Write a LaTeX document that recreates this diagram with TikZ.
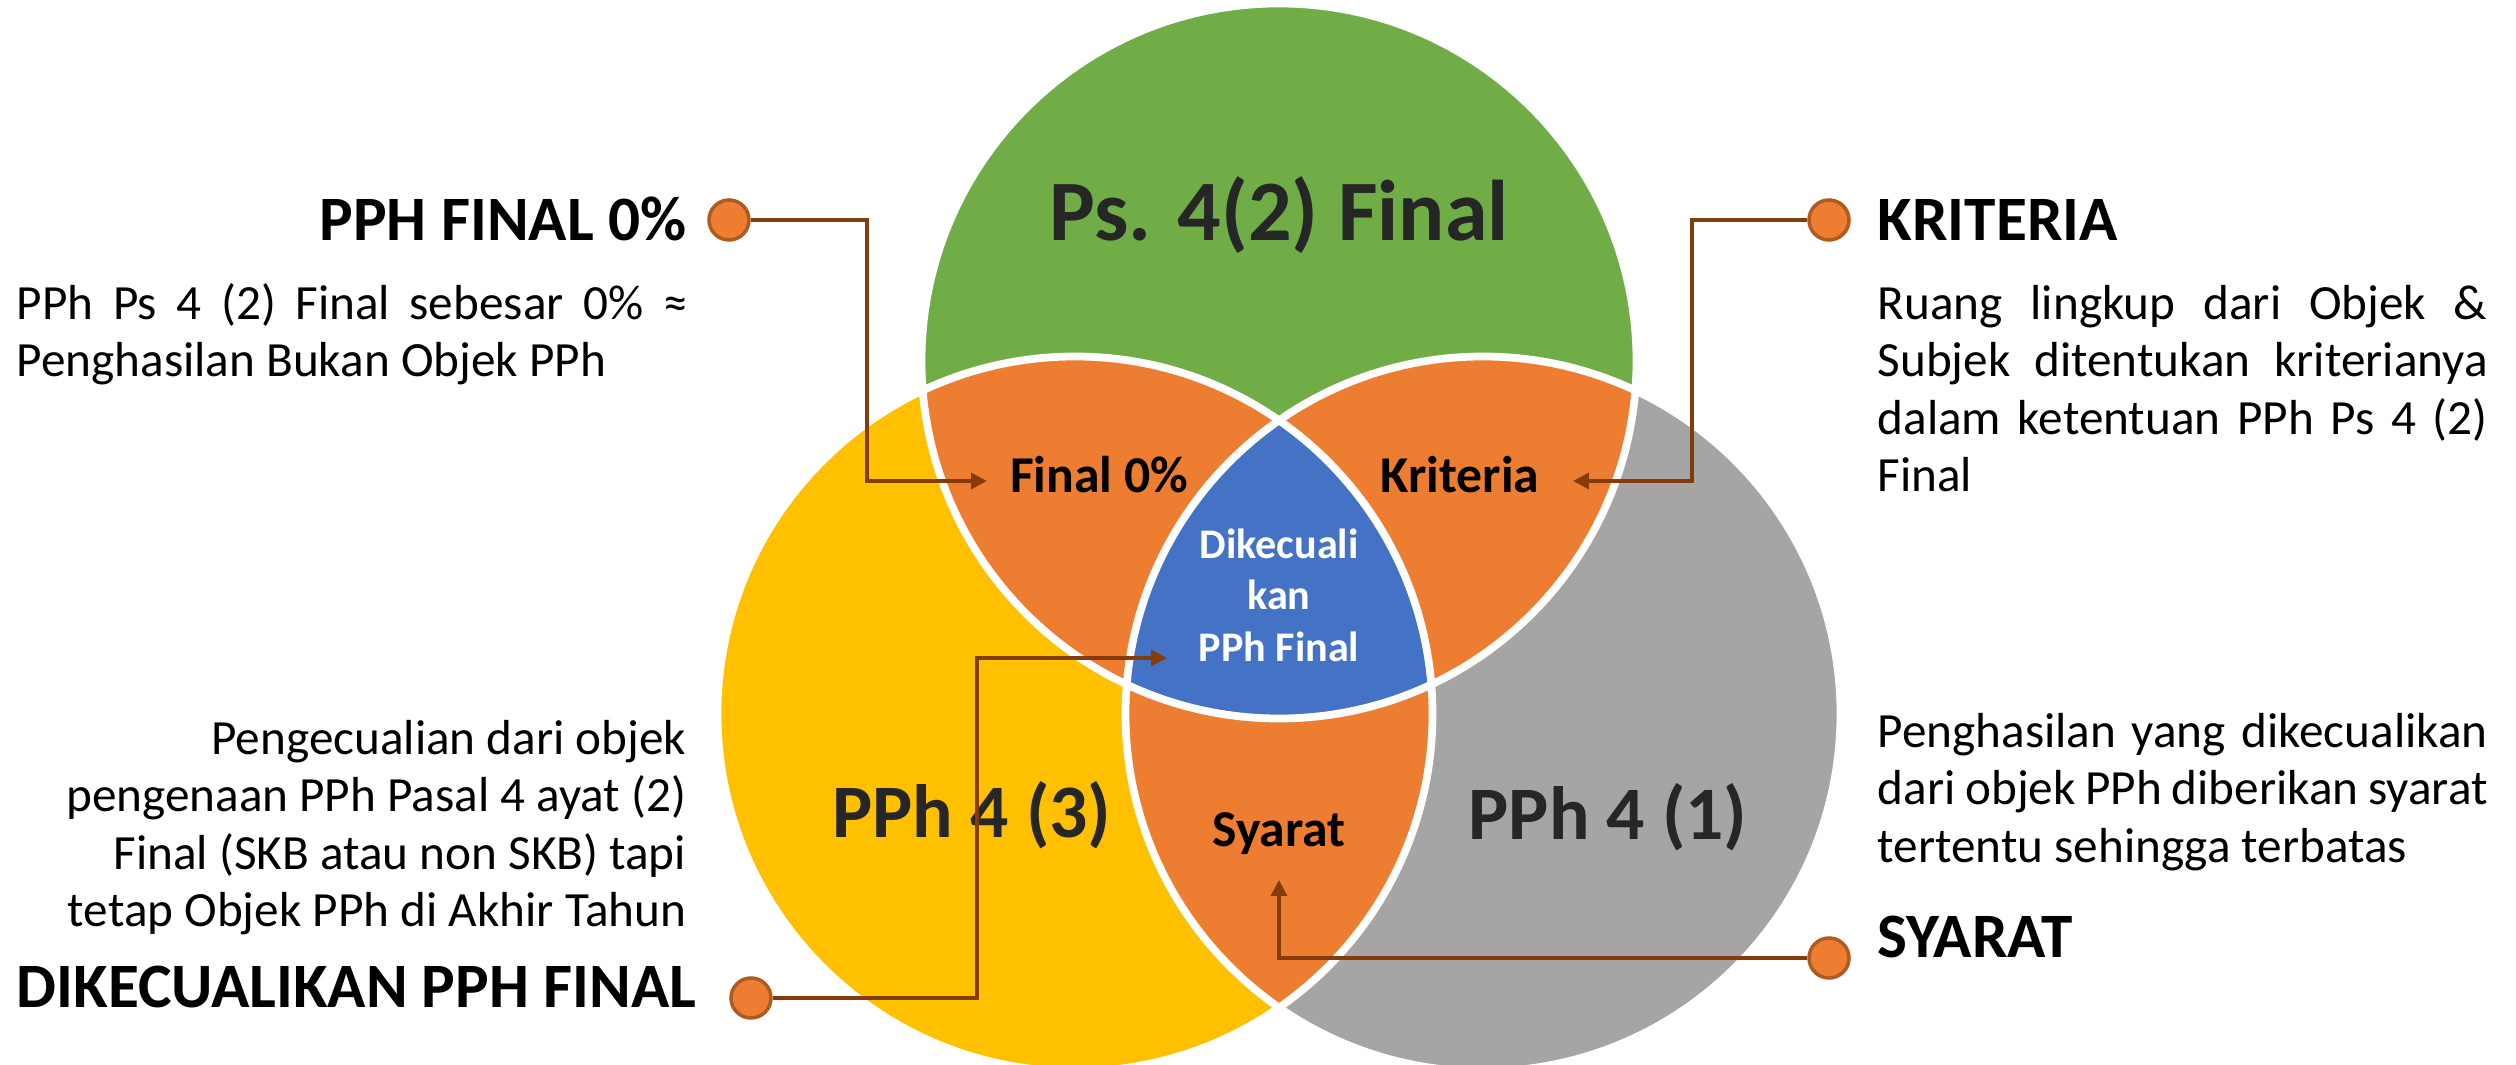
\documentclass[tikz,border=0pt]{standalone}
\usepackage{fontspec}
\setmainfont{Carlito}
\usepackage{tikz}
\usetikzlibrary{arrows.meta, positioning, calc}
\definecolor{vgreen}{HTML}{70AD47}
\definecolor{vyellow}{HTML}{FFC000}
\definecolor{vgray}{HTML}{A5A5A5}
\definecolor{vorange}{HTML}{ED7D31}
\definecolor{vblue}{HTML}{4472C4}
\definecolor{linkbrown}{HTML}{843C0C}
\definecolor{dotedge}{HTML}{AE5A21}
\definecolor{labelgray}{HTML}{262626}
\newcommand{\vennr}{3.575}
\newcommand{\justline}[1]{\hbox to 6.10cm{#1}}

\begin{document}
\begin{tikzpicture}[>={Triangle[length=4.5pt,width=4.5pt]},
  setlbl/.style={inner sep=0pt, text=labelgray, font=\fontsize{21.5}{24}\selectfont\bfseries},
  zonelbl/.style={inner sep=0pt, text=black, font=\fontsize{14.7}{17}\selectfont\bfseries},
  headline/.style={inner sep=0pt, font=\fontsize{18}{21}\selectfont\bfseries},
  bodytext/.style={inner sep=0pt, font=\fontsize{14}{16.4}\selectfont},
  dotmark/.style={circle, draw=dotedge, line width=1pt, fill=vorange, minimum size=0.4cm, inner sep=0pt},
  linker/.style={color=linkbrown, line width=1pt},
  rim/.style={draw=white, line width=2.2pt}]
  \useasboundingbox (0,0) rectangle (25.16,10.65);

  % Circles
  \coordinate (cG) at (12.79,7.04);
  \coordinate (cY) at (10.75,3.51);
  \coordinate (cR) at (14.83,3.51);
  \fill[vgreen] (cG) circle (\vennr);
  \fill[vyellow] (cY) circle (\vennr);
  \fill[vgray] (cR) circle (\vennr);

  % Overlaps
  \begin{scope}
    \clip (cY) circle (\vennr);
    \fill[vorange] (cR) circle (\vennr);
  \end{scope}
  \begin{scope}
    \clip (cG) circle (\vennr);
    \fill[vorange] (cY) circle (\vennr);
    \fill[vorange] (cR) circle (\vennr);
    \clip (cY) circle (\vennr);
    \fill[vblue] (cR) circle (\vennr);
  \end{scope}
  \draw[rim] (cG) circle (\vennr) (cY) circle (\vennr) (cR) circle (\vennr);

  % Labels inside
  \node[setlbl, font=\fontsize{24.5}{28}\selectfont\bfseries, anchor=base] (ps42) at (12.79,8.24) {Ps. 4(2) Final};
  \node[setlbl, anchor=base] (pph43) at (9.72,2.27) {PPh 4 (3)};
  \node[setlbl, anchor=base] (pph41) at (16.08,2.25) {PPh 4 (1)};
  \node[zonelbl, anchor=base] (zFinal) at (10.99,5.72) {Final 0\%};
  \node[zonelbl, anchor=base] (zKrit) at (14.60,5.72) {Kriteria};
  \node[zonelbl, anchor=base] (zSyarat) at (12.79,2.18) {Syarat};
  \node[zonelbl, text=white, font=\fontsize{12}{14.6}\selectfont\bfseries, align=center, anchor=north] (zDikec) at (12.79,5.43)
    {\strut Dikecuali\\kan\\PPh Final};

  % Side texts
  \node[headline, anchor=base east] (hFinal) at (6.87,8.24) {PPH FINAL 0\%};
  \node[bodytext, text width=6.71cm, align=justify, anchor=north west] (tFinal) at (0.16,7.87)
    {\strut PPh Ps 4 (2) Final sebesar 0\% ≈\linebreak Penghasilan Bukan Objek PPh};

  \node[headline, anchor=base west] (hKrit) at (18.77,8.24) {KRITERIA};
  \node[bodytext, text width=6.10cm, align=justify, anchor=north west] (tKrit) at (18.77,7.87)
    {\strut Ruang lingkup dari Objek \&\linebreak Subjek ditentukan kriterianya\linebreak dalam ketentuan PPh Ps 4 (2)\linebreak Final};

  \node[bodytext, align=right, anchor=north east] (tDikec) at (6.87,3.52)
    {\strut Pengecualian dari objek\\pengenaan PPh Pasal 4 ayat (2)\\Final (SKB atau non SKB) tapi\\tetap Objek PPh di Akhir Tahun};
  \node[headline, anchor=base west] (hDikec) at (0.16,0.57) {DIKECUALIKAN PPH FINAL};

  \node[bodytext, align=left, anchor=north west] (tSyarat) at (18.77,3.59)
    {\justline{\strut Penghasilan\hfill yang\hfill dikecualikan}\\\justline{dari objek PPh diberikan syarat}\\tertentu sehingga terbatas};
  \node[headline, anchor=base west] (hSyarat) at (18.77,1.07) {SYARAT};

  % Dots
  \node[dotmark] (dFinal) at (7.29,8.45) {};
  \node[dotmark] (dKrit) at (18.29,8.45) {};
  \node[dotmark] (dDikec) at (7.51,0.67) {};
  \node[dotmark] (dSyarat) at (18.29,1.07) {};

  % Connectors
  \coordinate (kFinal) at (8.67,5.84);
  \coordinate (aFinal) at (9.87,5.84);
  \coordinate (kKrit) at (16.92,5.84);
  \coordinate (aKrit) at (15.73,5.84);
  \coordinate (kDikec) at (9.77,4.07);
  \coordinate (aDikec) at (11.67,4.07);
  \coordinate (aSyarat) at (12.79,1.85);
  \draw[linker, ->] (dFinal) -| (kFinal) -- (aFinal);
  \draw[linker, ->] (dKrit) -| (kKrit) -- (aKrit);
  \draw[linker, ->] (dDikec) -| (kDikec) -- (aDikec);
  \draw[linker, ->] (dSyarat) -| (aSyarat);
\end{tikzpicture}
\end{document}
